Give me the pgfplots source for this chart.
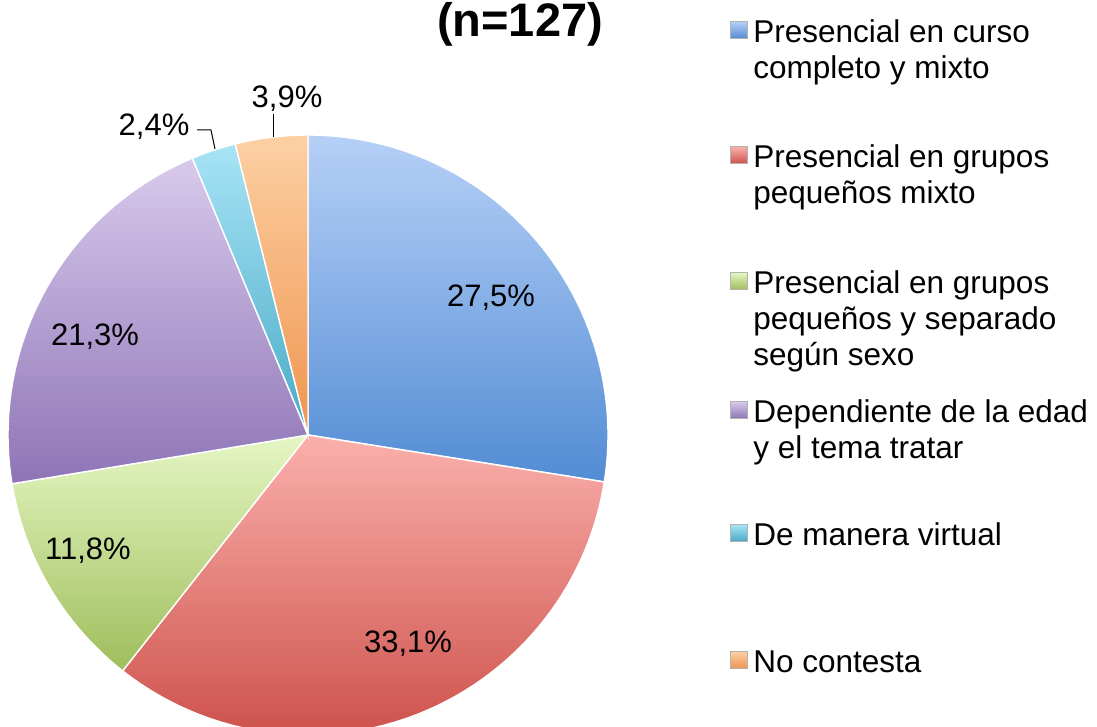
\documentclass[border=0pt]{standalone}
\usepackage{pgfplots}
\pgfplotsset{compat=1.18}
\usepackage{pgfplotstable}
\usepackage{fontspec}
\setmainfont{Liberation Sans}

\definecolor{bluetop}{RGB}{182,208,247}
\definecolor{bluebot}{RGB}{82,140,212}
\definecolor{redtop}{RGB}{250,176,172}
\definecolor{redbot}{RGB}{206,82,76}
\definecolor{greentop}{RGB}{230,246,196}
\definecolor{greenbot}{RGB}{158,190,92}
\definecolor{purptop}{RGB}{216,202,236}
\definecolor{purpbot}{RGB}{142,116,182}
\definecolor{cyantop}{RGB}{168,228,246}
\definecolor{cyanbot}{RGB}{72,170,198}
\definecolor{orangetop}{RGB}{252,208,164}
\definecolor{orangebot}{RGB}{240,148,78}

\tikzset{
  wedge/.style={draw=white, line width=0.7pt},
  lab/.style={font=\fontsize{15.5}{18}\selectfont, anchor=base},
  leg/.style={font=\fontsize{15.75}{18}\selectfont, anchor=base west, inner sep=0pt},
  sq/.style={minimum size=8.5pt, inner sep=0pt, draw=gray!60, line width=0.3pt},
}

\pgfplotstableread{
pct
27.5
33.1
11.8
21.3
2.4
3.9
}\piedata

\begin{document}
\begin{tikzpicture}
\def\cx{308}\def\cy{292}\def\R{300}
\pgfmathsetmacro\bA{90}
\pgfplotstablegetelem{0}{pct}\of\piedata \pgfmathsetmacro\bB{\bA-3.6*\pgfplotsretval}
\pgfplotstablegetelem{1}{pct}\of\piedata \pgfmathsetmacro\bC{\bB-3.6*\pgfplotsretval}
\pgfplotstablegetelem{2}{pct}\of\piedata \pgfmathsetmacro\bD{\bC-3.6*\pgfplotsretval}
\pgfplotstablegetelem{3}{pct}\of\piedata \pgfmathsetmacro\bE{\bD-3.6*\pgfplotsretval}
\pgfplotstablegetelem{4}{pct}\of\piedata \pgfmathsetmacro\bF{\bE-3.6*\pgfplotsretval}
\pgfplotstablegetelem{5}{pct}\of\piedata \pgfmathsetmacro\bG{\bF-3.6*\pgfplotsretval}
\begin{axis}[
  scale only axis, width=548.5pt, height=363.5pt,
  xmin=0, xmax=1097, ymin=0, ymax=727,
  hide axis, clip=true,
]
\addplot[wedge, samples=90, top color=bluetop, bottom color=bluebot, domain=\bB:\bA]
  ({\cx+\R*cos(x)},{\cy+\R*sin(x)}) -- (axis cs:\cx,\cy) -- cycle;
\addplot[wedge, samples=90, top color=redtop, bottom color=redbot, domain=\bC:\bB]
  ({\cx+\R*cos(x)},{\cy+\R*sin(x)}) -- (axis cs:\cx,\cy) -- cycle;
\addplot[wedge, samples=60, top color=greentop, bottom color=greenbot, domain=\bD:\bC]
  ({\cx+\R*cos(x)},{\cy+\R*sin(x)}) -- (axis cs:\cx,\cy) -- cycle;
\addplot[wedge, samples=80, top color=purptop, bottom color=purpbot, domain=\bE:\bD]
  ({\cx+\R*cos(x)},{\cy+\R*sin(x)}) -- (axis cs:\cx,\cy) -- cycle;
\addplot[wedge, samples=20, top color=cyantop, bottom color=cyanbot, domain=\bF:\bE]
  ({\cx+\R*cos(x)},{\cy+\R*sin(x)}) -- (axis cs:\cx,\cy) -- cycle;
\addplot[wedge, samples=20, top color=orangetop, bottom color=orangebot, domain=\bG:\bF]
  ({\cx+\R*cos(x)},{\cy+\R*sin(x)}) -- (axis cs:\cx,\cy) -- cycle;

% data labels
\node[lab] at (axis cs:491,420) {27,5\%};
\node[lab] at (axis cs:408,74) {33,1\%};
\node[lab] at (axis cs:88,167) {11,8\%};
\node[lab] at (axis cs:95,381) {21,3\%};
\node[lab] at (axis cs:154,591) {2,4\%};
\node[lab] at (axis cs:287,619) {3,9\%};
\draw[black, line width=0.5pt] (axis cs:197,597) -- (axis cs:211,597) -- (axis cs:215,578);
\draw[black, line width=0.5pt] (axis cs:273,613) -- (axis cs:273,590);

% title
\node[font=\fontsize{23.5}{28}\selectfont\bfseries, anchor=base] at (axis cs:520,690) {(n=127)};

% legend
\node[sq, top color=bluetop, bottom color=bluebot] at (axis cs:739,697) {};
\node[leg] at (axis cs:753,684) {Presencial en curso};
\node[leg] at (axis cs:753,648) {completo y mixto};
\node[sq, top color=redtop, bottom color=redbot] at (axis cs:739,572) {};
\node[leg] at (axis cs:753,559) {Presencial en grupos};
\node[leg] at (axis cs:753,523) {pequeños mixto};
\node[sq, top color=greentop, bottom color=greenbot] at (axis cs:739,446) {};
\node[leg] at (axis cs:753,433) {Presencial en grupos};
\node[leg] at (axis cs:753,397) {pequeños y separado};
\node[leg] at (axis cs:753,361) {según sexo};
\node[sq, top color=purptop, bottom color=purpbot] at (axis cs:739,317) {};
\node[leg] at (axis cs:753,304) {Dependiente de la edad};
\node[leg] at (axis cs:753,268) {y el tema tratar};
\node[sq, top color=cyantop, bottom color=cyanbot] at (axis cs:739,194) {};
\node[leg] at (axis cs:753,181) {De manera virtual};
\node[sq, top color=orangetop, bottom color=orangebot] at (axis cs:739,67) {};
\node[leg] at (axis cs:753,54) {No contesta};

\coordinate (bl) at (rel axis cs:0,0);
\coordinate (tr) at (rel axis cs:1,1);
\end{axis}
\pgfresetboundingbox
\path[use as bounding box] (bl) rectangle (tr);
\end{tikzpicture}
\end{document}
